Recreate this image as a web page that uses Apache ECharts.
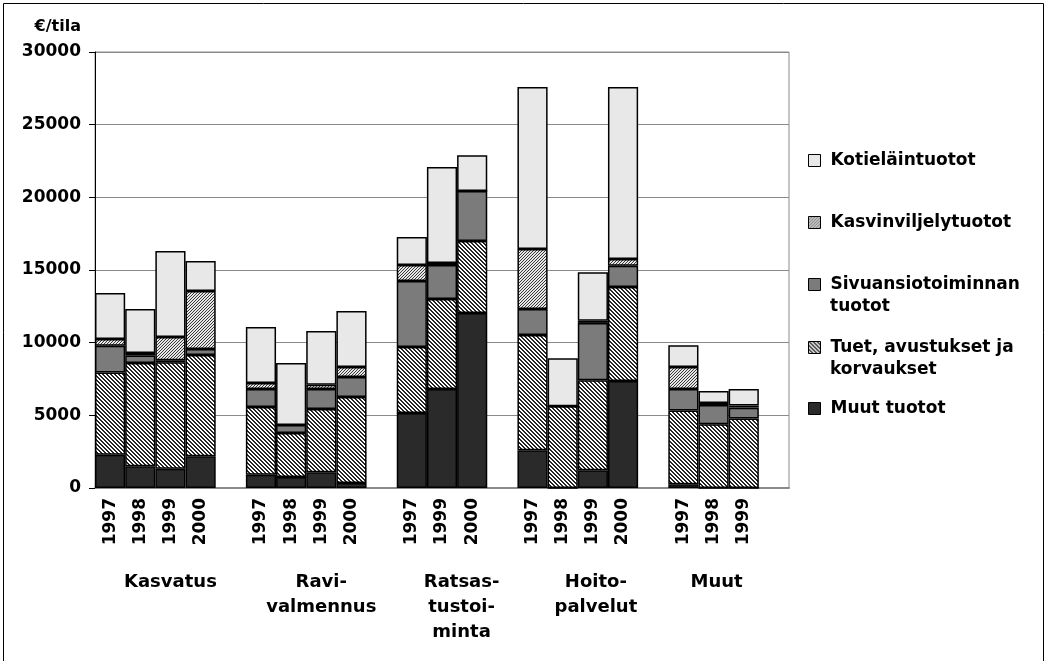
<!DOCTYPE html>
<html>
<head>
<meta charset="utf-8">
<script src="https://cdn.jsdelivr.net/npm/echarts@6/dist/echarts.min.js"></script>
<style>
  html, body { margin: 0; padding: 0; background: #fff; }
  #chart { width: 1047px; height: 661px; }
</style>
</head>
<body>
<div id="chart"></div>
<script>
// ---- data ----
const groupNames = ['Kasvatus', 'Ravi-\nvalmennus', 'Ratsas-\ntustoi-\nminta', 'Hoito-\npalvelut', 'Muut'];
const groupYears = [
  ['1997', '1998', '1999', '2000'],
  ['1997', '1998', '1999', '2000'],
  ['1997', '1999', '2000'],
  ['1997', '1998', '1999', '2000'],
  ['1997', '1998', '1999']
];
const yTicks = [0, 5000, 10000, 15000, 20000, 25000, 30000];

const muutTuotot   = [2290, 1490, 1330, 2180,  920,  760, 1080,  340,  5160, 6810, 12040,  2590,    0, 1220, 7360,   250,    0,    0];
const tuet         = [5660, 7110, 7320, 6970, 4655, 3030, 4360, 5920,  4540, 6190,  4960,  7940, 5620, 6190, 6470,  5090, 4380, 4790];
const sivuansio    = [1840,  510,  140,  420, 1240,  550, 1380, 1380,  4540, 2340,  3440,  1790,    0, 3950, 1470,  1470, 1330,  740];
const kasvinviljely= [ 460,  180, 1600, 3990,  410,    0,  280,  690,  1100,  140,     0,  4130,    0,  140,  460,  1510,  140,  140];
const kotielain    = [3170, 3030, 5920, 2060, 3850, 4260, 3710, 3850,  1930, 6610,  2450, 11150, 3300, 3350, 11840, 1510,  830, 1150];

// ---- build slots (each group followed by an empty slot) ----
const slots = [];
groupYears.forEach(ys => { ys.forEach(y => slots.push(y)); slots.push(''); });
function expand(arr) {
  const out = []; let k = 0;
  groupYears.forEach(ys => { ys.forEach(() => out.push(arr[k++])); out.push('-'); });
  return out;
}

// ---- fill patterns ----
function makePattern(size, bg, fg, test) {
  const c = document.createElement('canvas');
  c.width = size; c.height = size;
  const ctx = c.getContext('2d');
  ctx.fillStyle = bg; ctx.fillRect(0, 0, size, size);
  ctx.fillStyle = fg;
  for (let y = 0; y < size; y++) for (let x = 0; x < size; x++) if (test(x, y)) ctx.fillRect(x, y, 1, 1);
  return { image: c, repeat: 'repeat' };
}
const tuetPattern  = makePattern(4, '#ffffff', '#262626', (x, y) => ((x - y + 8) % 4) < 2);
const kasviPattern = makePattern(3, '#e6e6e6', '#3a3a3a', (x, y) => ((x + y) % 3) === 0);

const FONT = 'DejaVu Sans';
const border = { borderColor: '#000', borderWidth: 1.5 };

const seriesDefs = [
  { name: 'Muut tuotot', data: muutTuotot, color: '#2a2a2a' },
  { name: 'Tuet, avustukset ja korvaukset', data: tuet, color: tuetPattern },
  { name: 'Sivuansiotoiminnan tuotot', data: sivuansio, color: '#7b7b7b' },
  { name: 'Kasvinviljelytuotot', data: kasvinviljely, color: kasviPattern },
  { name: 'Kotieläintuotot', data: kotielain, color: '#e8e8e8' }
];

const legendLayout = [
  { name: 'Kotieläintuotot', label: 'Kotieläintuotot', cy: 158 },
  { name: 'Kasvinviljelytuotot', label: 'Kasvinviljelytuotot', cy: 220 },
  { name: 'Sivuansiotoiminnan tuotot', label: 'Sivuansiotoiminnan', cy: 282, cont: 'tuotot' },
  { name: 'Tuet, avustukset ja korvaukset', label: 'Tuet, avustukset ja', cy: 345, cont: 'korvaukset' },
  { name: 'Muut tuotot', label: 'Muut tuotot', cy: 406 }
];

const chart = echarts.init(document.getElementById('chart'));
const option = {
  animation: false,
  backgroundColor: '#fff',
  textStyle: { fontFamily: FONT },
  grid: { left: 95, right: 258, top: 52, bottom: 173, show: true, borderColor: '#8a8a8a', borderWidth: 1 },
  legend: legendLayout.map(l => ({
    data: [l.name],
    left: 808, top: l.cy - 6, padding: 0,
    itemWidth: 12, itemHeight: 12, itemGap: 0,
    icon: 'rect',
    itemStyle: { borderColor: '#000', borderWidth: 1 },
    formatter: () => l.label,
    selectedMode: false,
    textStyle: { fontFamily: FONT, fontWeight: 'bold', fontSize: 17, color: '#000', lineHeight: 12, padding: [0, 0, 0, 5] }
  })),
  xAxis: {
    type: 'category',
    data: slots,
    axisLine: { lineStyle: { color: '#8a8a8a', width: 2 } },
    axisTick: { show: false },
    axisLabel: { rotate: 90, margin: 10, interval: 0, fontFamily: FONT, fontWeight: 'bold', fontSize: 17, color: '#000' }
  },
  yAxis: {
    type: 'value',
    min: 0, max: 30000, interval: 5000,
    name: '€/tila',
    nameLocation: 'end',
    nameGap: 17,
    nameTextStyle: { fontFamily: FONT, fontWeight: 'bold', fontSize: 16, color: '#000', align: 'right', padding: [0, 14, 0, 0] },
    axisLine: { show: true, lineStyle: { color: '#000', width: 1 } },
    axisTick: { show: true, inside: false, length: 6, lineStyle: { color: '#000' } },
    axisLabel: { margin: 14, fontFamily: FONT, fontWeight: 'bold', fontSize: 17, color: '#000',
      formatter: v => (yTicks.indexOf(v) >= 0 ? String(v) : '') },
    splitLine: { lineStyle: { color: '#8a8a8a', width: 1 } }
  },
  series: seriesDefs.map(s => ({
    name: s.name,
    type: 'bar',
    stack: 'total',
    barCategoryGap: '0%',
    data: expand(s.data),
    itemStyle: Object.assign({ color: s.color }, border),
    emphasis: { disabled: true }
  }))
};
chart.setOption(option);

// ---- extra text: legend continuation lines, group labels, frame ----
const p0 = chart.convertToPixel({ xAxisIndex: 0 }, 0);
const p1 = chart.convertToPixel({ xAxisIndex: 0 }, 1);
const slotW = p1 - p0;
const groupCenters = [2, 7, 11.65, 16.1, 20.1];
const graphics = [
  { type: 'rect', silent: true, z: 0, shape: { x: 3.5, y: 3.5, width: 1040, height: 680 },
    style: { fill: 'none', stroke: '#000', lineWidth: 1 } }
];
legendLayout.forEach(l => {
  if (l.cont) {
    graphics.push({ type: 'text', silent: true, left: 830, top: l.cy + 25 - 9,
      style: { text: l.cont, font: 'bold 17px "' + FONT + '"', fill: '#000' } });
  }
});
groupNames.forEach((g, i) => {
  const cx = p0 + groupCenters[i] * slotW;
  graphics.push({ type: 'text', silent: true, x: cx, y: 570,
    style: { text: g, font: 'bold 18px "' + FONT + '"', fill: '#000', align: 'center', verticalAlign: 'top', lineHeight: 25 } });
});
chart.setOption({ graphic: graphics });
</script>
</body>
</html>
